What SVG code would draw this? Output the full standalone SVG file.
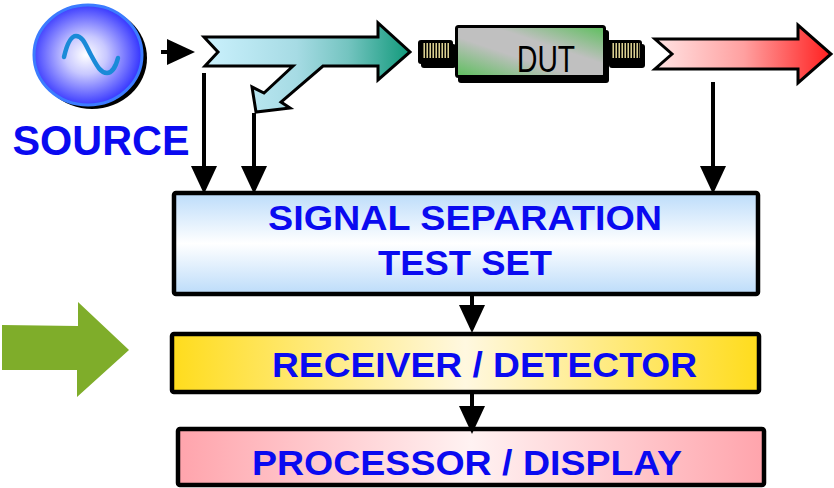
<svg xmlns="http://www.w3.org/2000/svg" width="834" height="488" viewBox="0 0 834 488">
  <defs>
    <style>
      .label { font-family: "Liberation Sans", Arial, sans-serif; font-weight: bold; fill: #0a0af0; }
      .box { stroke: #000; stroke-width: 4.5; }
      .outline { stroke: #000; stroke-width: 3; stroke-linejoin: miter; }
      .wire { stroke: #000; stroke-width: 4; fill: none; }
    </style>
    <radialGradient id="srcFill" cx="0.48" cy="0.5" r="0.55">
      <stop offset="0" stop-color="#ffffff"/>
      <stop offset="0.35" stop-color="#c8c8ff"/>
      <stop offset="1" stop-color="#2424ff"/>
    </radialGradient>
    <linearGradient id="couplerFill" gradientUnits="userSpaceOnUse" x1="204" y1="0" x2="410" y2="0">
      <stop offset="0" stop-color="#cbf1fd"/>
      <stop offset="0.45" stop-color="#a6dbe4"/>
      <stop offset="0.7" stop-color="#74c4c0"/>
      <stop offset="1" stop-color="#10997a"/>
    </linearGradient>
    <linearGradient id="outFill" gradientUnits="userSpaceOnUse" x1="655" y1="0" x2="833" y2="0">
      <stop offset="0" stop-color="#ffe4e4"/>
      <stop offset="0.5" stop-color="#ffa0a0"/>
      <stop offset="1" stop-color="#ff1c1c"/>
    </linearGradient>
    <linearGradient id="dutFill" x1="0" y1="1" x2="1" y2="0">
      <stop offset="0" stop-color="#5cbf5c"/>
      <stop offset="0.4" stop-color="#c0c0c0"/>
      <stop offset="0.62" stop-color="#c0c0c0"/>
      <stop offset="1" stop-color="#5cbf5c"/>
    </linearGradient>
    <pattern id="thread" patternUnits="userSpaceOnUse" x="0" y="0" width="3" height="20">
      <rect x="0" y="0" width="3" height="20" fill="#000"/>
      <rect x="0.5" y="0" width="1.4" height="20" fill="#f2e6a0"/>
    </pattern>
    <linearGradient id="sepFill" x1="0" y1="0" x2="0" y2="1">
      <stop offset="0" stop-color="#bcdcfa"/>
      <stop offset="0.5" stop-color="#ffffff"/>
      <stop offset="1" stop-color="#bcdcfa"/>
    </linearGradient>
    <linearGradient id="rcvFill" x1="0" y1="0" x2="1" y2="0">
      <stop offset="0" stop-color="#ffdc1c"/>
      <stop offset="0.5" stop-color="#fff8e0"/>
      <stop offset="1" stop-color="#ffdc1c"/>
    </linearGradient>
    <linearGradient id="procFill" x1="0" y1="0" x2="1" y2="0">
      <stop offset="0" stop-color="#ffa4ac"/>
      <stop offset="0.5" stop-color="#fff2f2"/>
      <stop offset="1" stop-color="#ffa4ac"/>
    </linearGradient>
    <marker id="head" viewBox="0 0 28 26" markerWidth="28" markerHeight="26" refX="0" refY="13" orient="auto" markerUnits="userSpaceOnUse">
      <path d="M0,0 L28,13 L0,26 z" fill="#000"/>
    </marker>
  </defs>

  <rect width="834" height="488" fill="#fff"/>

  <!-- signal source -->
  <g id="source">
    <ellipse cx="92" cy="58" rx="55" ry="51" fill="#000"/>
    <ellipse cx="88" cy="55" rx="54" ry="50" fill="url(#srcFill)" stroke="#3c7cff" stroke-width="3"/>
    <path d="M64,57 C67,44 71,36 76,36 C83,36 86,46 91,55 C96,64 100,73 107,73 C112,73 116,66 118,58" fill="none" stroke="#1a8ad8" stroke-width="4.5" stroke-linecap="round"/>
    <text class="label" x="101" y="155" font-size="42" text-anchor="middle" textLength="177" lengthAdjust="spacingAndGlyphs">SOURCE</text>
  </g>

  <!-- directional coupler arrow with reflected branch -->
  <g id="coupler">
    <polygon class="outline" fill="url(#couplerFill)" points="204,37 378,37 378,23 410,52 378,80 378,66 323,66 281,102 290,108 256,112 252,87 264,93 293,66 205,66 218,52"/>
  </g>

  <!-- device under test -->
  <g id="dut">
    <rect x="421" y="44" width="35" height="24" rx="3" fill="#000"/>
    <rect x="418" y="40" width="35" height="24" rx="3" fill="#000"/>
    <rect x="422" y="43" width="28" height="15" fill="url(#thread)"/>
    <rect x="609" y="44" width="36" height="24" rx="3" fill="#000"/>
    <rect x="606" y="40" width="36" height="24" rx="3" fill="#000"/>
    <rect x="612" y="43" width="28" height="15" fill="url(#thread)"/>
    <rect x="458" y="30" width="151" height="53" rx="3" fill="#000"/>
    <rect x="456.5" y="26.5" width="148" height="50" rx="2" fill="url(#dutFill)" stroke="#000" stroke-width="3"/>
    <text x="546" y="72" font-family="'Liberation Sans', Arial, sans-serif" font-size="37" fill="#000" text-anchor="middle" textLength="58" lengthAdjust="spacingAndGlyphs">DUT</text>
  </g>

  <!-- transmitted signal arrow -->
  <g id="output-arrow">
    <polygon class="outline" fill="url(#outFill)" points="655,39 798,39 798,25 831,54 798,83 798,69 655,69 672,54"/>
  </g>

  <!-- signal separation test set -->
  <g id="signal-separation">
    <rect class="box" x="174" y="193" width="584" height="101" rx="2" fill="url(#sepFill)"/>
    <text class="label" x="465" y="230" font-size="35" text-anchor="middle" textLength="394" lengthAdjust="spacingAndGlyphs">SIGNAL SEPARATION</text>
    <text class="label" x="465" y="275" font-size="35" text-anchor="middle" textLength="174" lengthAdjust="spacingAndGlyphs">TEST SET</text>
  </g>

  <!-- receiver / detector -->
  <g id="receiver">
    <rect class="box" x="172" y="334" width="587" height="58" rx="2" fill="url(#rcvFill)"/>
    <text class="label" x="484.5" y="377" font-size="35" text-anchor="middle" textLength="425" lengthAdjust="spacingAndGlyphs">RECEIVER / DETECTOR</text>
  </g>

  <!-- processor / display -->
  <g id="processor">
    <rect class="box" x="178" y="429" width="586" height="56" rx="2" fill="url(#procFill)"/>
    <text class="label" x="467" y="475" font-size="35" text-anchor="middle" textLength="430" lengthAdjust="spacingAndGlyphs">PROCESSOR / DISPLAY</text>
  </g>

  <!-- highlight pointer -->
  <g id="pointer">
    <polygon fill="#7fad2a" points="2,325 78,326 78,302 129,350 77,397 77,370 2,370"/>
  </g>

  <!-- connectors -->
  <g id="connectors">
    <line class="wire" x1="161" y1="52" x2="167" y2="52" stroke-width="6" marker-end="url(#head)"/>
    <line class="wire" x1="204" y1="73" x2="204" y2="166" marker-end="url(#head)"/>
    <line class="wire" x1="254" y1="113" x2="254" y2="166" marker-end="url(#head)"/>
    <line class="wire" x1="713" y1="82" x2="713" y2="166" marker-end="url(#head)"/>
    <line class="wire" x1="472" y1="295" x2="472" y2="305" marker-end="url(#head)"/>
    <line class="wire" x1="472" y1="393" x2="472" y2="406" marker-end="url(#head)"/>
  </g>
</svg>
